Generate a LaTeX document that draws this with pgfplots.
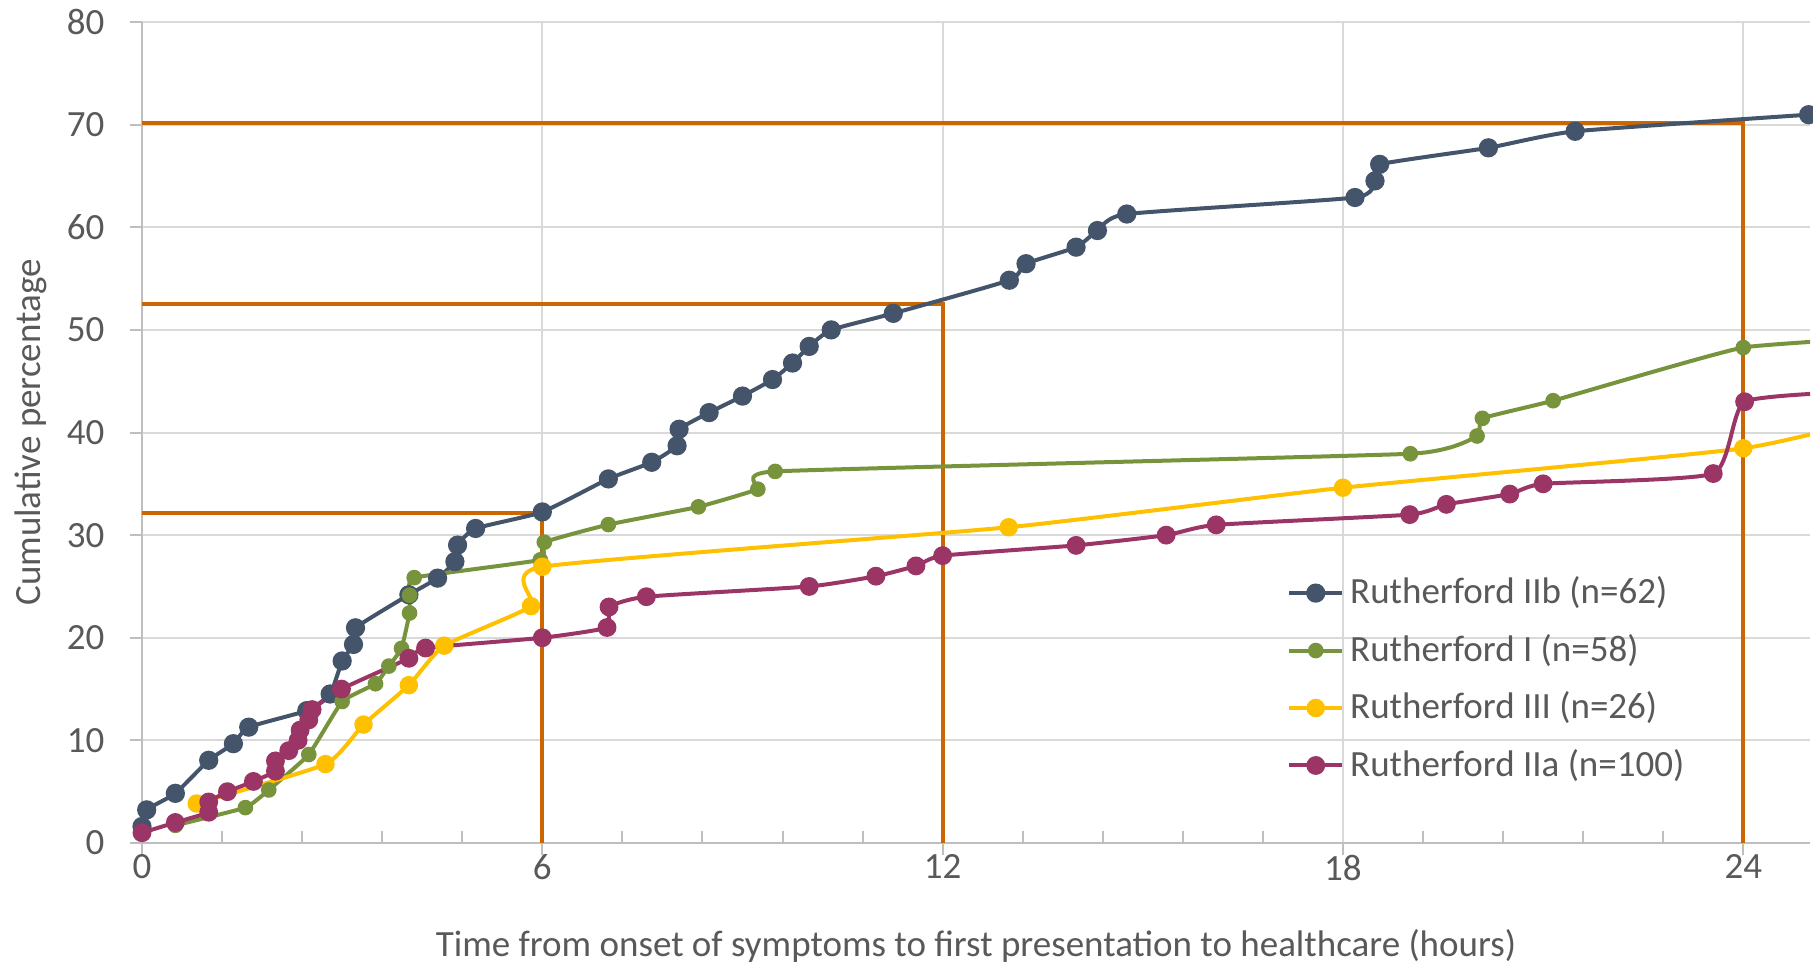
\documentclass[border=0pt]{standalone}
\usepackage{fontspec}
\setmainfont{Carlito}
\usepackage{pgfplots}
\pgfplotsset{compat=1.18}

\definecolor{cIIb}{HTML}{44546A}
\definecolor{cI}{HTML}{77933C}
\definecolor{cIII}{HTML}{FFC000}
\definecolor{cIIa}{HTML}{9B3566}
\definecolor{cref}{HTML}{CC6600}
\definecolor{ctext}{HTML}{595959}
\definecolor{cgrid}{HTML}{D9D9D9}
\definecolor{caxis}{HTML}{BFBFBF}

\begin{document}
\begin{tikzpicture}[font=\fontsize{9.25}{11}\selectfont]
\path[use as bounding box] (-35.5pt,-31.25pt) rectangle (417.75pt,210.75pt);
\begin{axis}[
  at={(0pt,0pt)}, anchor=south west,
  scale only axis, width=417pt, height=205.25pt,
  xmin=0, xmax=25, ymin=0, ymax=80,
  xtick={0,6,12,18,24}, ytick={0,10,...,80},
  extra x ticks={1.2,2.4,3.6,4.8,7.2,8.4,9.6,10.8,13.2,14.4,15.6,16.8,19.2,20.4,21.6,22.8},
  extra x tick labels={},
  extra x tick style={grid=none, tick align=inside, major tick length=3pt},
  tick align=outside, major tick length=3pt,
  xmajorgrids, ymajorgrids,
  grid style={cgrid, line width=0.5pt},
  axis x line*=bottom, axis y line*=left,
  axis line style={caxis, line width=0.5pt},
  tick style={caxis, line width=0.5pt},
  ticklabel style={ctext},
  xticklabel style={yshift=3.6pt},
  yticklabel style={xshift=-2.9pt},
  /pgf/number format/assume math mode=true,
  xlabel={Time from onset of symptoms to first presentation to healthcare (hours)},
  ylabel={Cumulative percentage},
  label style={ctext},
  xlabel style={at={(axis description cs:0.5,-0.1255)}, anchor=center},
  ylabel style={at={(axis description cs:-0.0665,0.5)}, anchor=center},
  legend style={at={(rel axis cs:0.679,0.345)}, anchor=north west,
    draw=none, fill=none, text=ctext, row sep=2.1pt,
    nodes={inner xsep=1.5pt},
    font=\fontsize{9.25}{11}\selectfont},
  legend cell align=left,
  legend image code/.code={
    \draw[mark repeat=2, mark phase=2]
      plot coordinates {(0pt,0pt) (6.6pt,0pt) (13.2pt,0pt)};},
]

% reference lines at 6, 12 and 24 hours
\addplot[cref, line width=1pt, forget plot] coordinates {(0,32.2) (6,32.2) (6,0)};
\addplot[cref, line width=1pt, forget plot] coordinates {(0,52.5) (12,52.5) (12,0)};
\addplot[cref, line width=1pt, forget plot] coordinates {(0,70.2) (24,70.2) (24,0)};

% Rutherford IIb
\addplot[cIIb, line width=1pt, smooth, tension=0.3, mark=*, mark size=1.9pt,
  mark options={fill=cIIb, draw=cIIb}] coordinates {
(0,1.61) (0.07,3.23) (0.5,4.84) (1.0,8.06) (1.37,9.68) (1.6,11.29)
(2.47,12.90) (2.82,14.52) (3.0,17.74) (3.17,19.35) (3.2,20.97) (4.0,24.19)
(4.43,25.81) (4.69,27.42) (4.73,29.03) (5.0,30.65) (6.0,32.26) (6.99,35.48)
(7.64,37.10) (8.02,38.71) (8.05,40.32) (8.5,41.94) (9.0,43.55) (9.45,45.16)
(9.75,46.77) (10.0,48.39) (10.33,50.00) (11.26,51.61) (13.0,54.84) (13.25,56.45)
(14.0,58.06) (14.32,59.68) (14.76,61.29) (18.18,62.90) (18.48,64.52) (18.55,66.13)
(20.18,67.74) (21.48,69.35) (24.98,70.97)
};
\addlegendentry{Rutherford IIb (n=62)}

% Rutherford I
\addplot[cI, line width=1pt, smooth, tension=0.22, mark=*, mark size=1.45pt,
  mark options={fill=cI, draw=cI}] coordinates {
(0.5,1.72) (1.55,3.45) (1.9,5.17) (2.5,8.62) (3.0,13.79) (3.5,15.52)
(3.7,17.24) (3.89,18.97) (4.01,22.41) (4.01,24.14) (4.08,25.86) (5.97,27.59)
(6.03,29.31) (6.99,31.03) (8.34,32.76) (9.23,34.48) (9.49,36.21) (19.01,37.93)
(20.01,39.66) (20.09,41.38) (21.15,43.10) (24.0,48.28) (27.0,49.6)
};
\addlegendentry{Rutherford I (n=58)}

% Rutherford III
\addplot[cIII, line width=1pt, smooth, tension=0.3, mark=*, mark size=1.8pt,
  mark options={fill=cIII, draw=cIII}] coordinates {
(0.82,3.85) (2.75,7.69) (3.32,11.54) (4.0,15.38) (4.53,19.23) (5.83,23.08)
(6.0,26.92) (12.99,30.77) (18.0,34.62) (24.0,38.46) (26.5,42.31)
};
\addlegendentry{Rutherford III (n=26)}

% Rutherford IIa
\addplot[cIIa, line width=1pt, smooth, tension=0.3, mark=*, mark size=1.85pt,
  mark options={fill=cIIa, draw=cIIa}] coordinates {
(0,1) (0.5,2) (1.0,3) (1.0,4) (1.28,5) (1.67,6) (2.0,7) (2.0,8) (2.2,9)
(2.34,10) (2.37,11) (2.5,12) (2.55,13) (2.99,15) (4.0,18) (4.25,19)
(6.0,20) (6.97,21) (7.0,23) (7.56,24) (10.0,25) (11.0,26) (11.6,27)
(12.0,28) (14.0,29) (15.35,30) (16.1,31) (19.0,32) (19.55,33) (20.5,34)
(21.0,35) (23.55,36) (24.02,43) (25.8,44)
};
\addlegendentry{Rutherford IIa (n=100)}

\end{axis}
\end{tikzpicture}
\end{document}
